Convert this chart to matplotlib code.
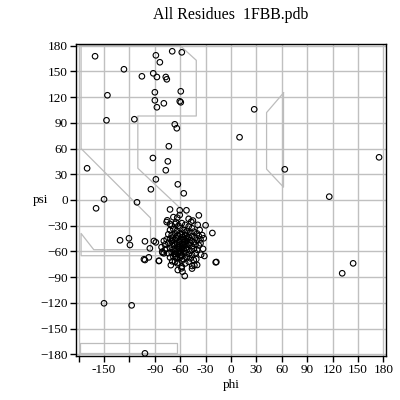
import numpy as np
import matplotlib
matplotlib.use("Agg")
import matplotlib.pyplot as plt

# scattered residues (phi, psi)
phi_out = [-160.5, -88.7, -69.4, -58.1, -84, -126.4, -105.2, -91.8, -87.5, -77, -75.8,
           -145.9, -89.9, -59.3, -89.9, -79.3, -87.5, -60.5, -59.3, -147, -114.1, -66.4,
           -64, -73.4, -169.9, -92.2, -74.6, -77, -88.7, -62.8, -55.8, -94.6, -149.9,
           -111, -159.3, 27.4, 10.1, 63.5, 174.8, 116, 144.2, 131.3, -131, -120.5,
           -119.3, -101.6, -95.8, -88.7, -101.6, -97, -85.2, -81.2, -79.3, -149.9,
           -117.3, -101.6, -18.1, -62.8, -58.5, -54.6, -45.9, -40]
psi_out = [167.7, 168.8, 173.5, 172.3, 160.7, 152.5, 144.3, 147.8, 143.5, 143.5, 140.8,
           122.2, 125.7, 126.8, 116.3, 112.8, 108.2, 115.2, 114, 93, 94.2, 88.3,
           83.7, 62.7, 37, 49, 45.1, 34.7, 24.1, 18.3, 7.8, 12.5, 0.8,
           -2.7, -9.7, 105.8, 73.2, 35.8, 49.8, 3.9, -73.9, -85.5, -47, -44.7,
           -52.5, -48.2, -56.4, -49.4, -70, -66.9, -71.2, -60.3, -62.2, -120.5,
           -122.9, -178.9, -72.7, -81.7, -79.7, -88.7, -77, -75.8]

# helical cluster edge points
phi_edge = [-72, -60.5, -52.6, -60.5, -63.5, -75.3, -47, -39.3, -30, -22, -32.2, -36,
            -38, -91, -79.3, -102.8, -85, -80.8, -69.4, -58, -57.3, -43.2, -35.3,
            -31.4, -17.3, -63.5, -76, -72, -65, -50, -45, -33, -34, -37, -78, -82,
            -71, -46, -41, -68]
psi_edge = [-11, -12, -12, -17.5, -20.6, -23.7, -25.3, -29, -29.5, -38.5, -44.7, -50.5,
            -17.9, -47.8, -47.8, -69.2, -70.8, -61.5, -71.5, -77.8, -83.6, -76.2, -63.8,
            -65.3, -72.3, -73.9, -25.7, -28, -26, -22, -24, -57, -41, -35, -58, -55,
            -76, -80, -69, -20]

# dense core of the cluster
phi_core = [-70, -66, -62, -58, -54, -50, -46, -72, -68, -64, -60, -56, -52, -48, -44, -40,
            -74, -70, -66, -62, -58, -54, -50, -46, -42, -38, -76, -72, -68, -64, -60, -56,
            -52, -48, -44, -40, -36, -78, -74, -70, -66, -62, -58, -54, -50, -46, -42, -38,
            -76, -72, -68, -64, -60, -56, -52, -48, -44, -40, -74, -70, -66, -62, -58, -54,
            -50, -46, -42, -72, -68, -64, -60, -56, -52, -48, -44, -66, -62, -58, -54, -50,
            -65, -61, -57, -63, -59, -55, -67, -53, -69, -51, -60, -58, -62, -64, -56, -66,
            -54, -70, -48, -60, -57, -63, -61, -55, -59, -65, -53, -67]
psi_core = [-30, -28, -30, -27, -29, -31, -33, -35, -34, -36, -33, -35, -36, -38, -37, -39,
            -40, -41, -39, -42, -40, -41, -43, -42, -44, -42, -46, -45, -47, -45, -47, -46,
            -48, -47, -49, -47, -46, -52, -50, -52, -51, -53, -51, -53, -52, -54, -52, -53,
            -57, -56, -58, -57, -59, -57, -58, -59, -57, -58, -62, -61, -63, -62, -64, -62,
            -63, -64, -62, -67, -66, -68, -67, -69, -67, -68, -70, -72, -73, -71, -74, -72,
            -44, -49, -43, -55, -61, -49, -53, -56, -44, -45, -40, -56, -60, -50, -52, -60,
            -38, -48, -50, -54, -47, -41, -57, -60, -65, -66, -45, -63]

# allowed-region outlines
reg1_phi = [-177, -177, -95, -95, -162, -177, -177, -40, -40, -110, -110, -41, -41, -60, -177]
reg1_psi = [180, 60, -21, -58, -58, -39, -65, -65, -28, 37, 98, 98, 163, 180, 180]
reg2_phi = [62, 42, 42, 62, 62]
reg2_psi = [125, 102, 36, 15, 125]
reg3_phi = [-178, -64, -64, -178, -178]
reg3_psi = [-178, -178, -167, -167, -178]

plt.rcParams["font.family"] = ["Liberation Serif", "DejaVu Serif"]
plt.rcParams["font.size"] = 9.5

fig = plt.figure(figsize=(4, 4), dpi=100)
ax = fig.add_axes([0.19, 0.11, 0.775, 0.78])

ticks = np.arange(-180, 181, 30)
ax.set_xticks(ticks)
ax.set_yticks(ticks)
ax.set_xticklabels(["" if t in (-180, -120) else str(t) for t in ticks])
ax.set_xlim(-183, 183)
ax.set_ylim(-182, 182)
ax.grid(True, color="#c0c0c0", linewidth=1.0)
ax.set_axisbelow(True)

gc = "#bcbcbc"
ax.plot(reg1_phi, reg1_psi, color=gc, linewidth=0.9)
ax.plot(reg2_phi, reg2_psi, color=gc, linewidth=0.9)
ax.plot(reg3_phi, reg3_psi, color=gc, linewidth=0.9)

allphi = phi_out + phi_edge + phi_core
allpsi = psi_out + psi_edge + psi_core
ax.scatter(allphi, allpsi, s=16, facecolors="none", edgecolors="black", linewidths=0.8, zorder=3)

for s in ax.spines.values():
    s.set_color("black")
    s.set_linewidth(1.0)
ax.tick_params(direction="out", length=4, width=1, pad=2)

ax.set_title("All Residues  1FBB.pdb", pad=18)
ax.set_xlabel("phi", labelpad=2)
ax.set_ylabel("psi", rotation=0, va="center", ha="center")
ax.yaxis.set_label_coords(-0.115, 0.5)

fig.savefig("out.png", dpi=100)
